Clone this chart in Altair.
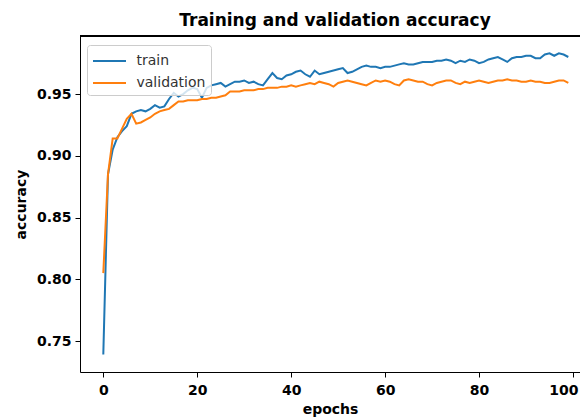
import altair as alt
import pandas as pd

epochs = list(range(100))

train = [
    0.739, 0.885, 0.905, 0.915, 0.920, 0.924, 0.934, 0.936, 0.937, 0.936,
    0.938, 0.941, 0.939, 0.940, 0.946, 0.951, 0.948, 0.950, 0.953, 0.955,
    0.954, 0.947, 0.955, 0.957, 0.958, 0.959, 0.956, 0.958, 0.960, 0.960,
    0.961, 0.959, 0.960, 0.958, 0.957, 0.962, 0.967, 0.963, 0.962, 0.965,
    0.966, 0.968, 0.969, 0.966, 0.964, 0.969, 0.966, 0.967, 0.968, 0.969,
    0.970, 0.971, 0.967, 0.968, 0.970, 0.972, 0.973, 0.972, 0.972, 0.971,
    0.972, 0.972, 0.973, 0.974, 0.975, 0.974, 0.974, 0.975, 0.976, 0.976,
    0.976, 0.977, 0.977, 0.978, 0.977, 0.975, 0.977, 0.976, 0.978, 0.977,
    0.975, 0.976, 0.978, 0.979, 0.980, 0.978, 0.976, 0.979, 0.980, 0.980,
    0.981, 0.981, 0.979, 0.979, 0.982, 0.983, 0.981, 0.983, 0.982, 0.980,
]

validation = [
    0.805, 0.885, 0.914, 0.914, 0.922, 0.930, 0.934, 0.926, 0.927, 0.929,
    0.931, 0.934, 0.936, 0.937, 0.938, 0.941, 0.944, 0.944, 0.945, 0.945,
    0.945, 0.946, 0.946, 0.947, 0.947, 0.948, 0.949, 0.952, 0.952, 0.952,
    0.953, 0.953, 0.953, 0.954, 0.954, 0.955, 0.955, 0.955, 0.956, 0.956,
    0.957, 0.956, 0.957, 0.958, 0.959, 0.958, 0.960, 0.959, 0.958, 0.956,
    0.959, 0.960, 0.961, 0.960, 0.959, 0.958, 0.957, 0.959, 0.961, 0.960,
    0.961, 0.960, 0.958, 0.957, 0.961, 0.962, 0.961, 0.960, 0.960, 0.958,
    0.957, 0.959, 0.960, 0.961, 0.961, 0.959, 0.958, 0.960, 0.959, 0.960,
    0.961, 0.960, 0.959, 0.960, 0.961, 0.961, 0.962, 0.961, 0.961, 0.960,
    0.960, 0.961, 0.960, 0.960, 0.959, 0.959, 0.960, 0.961, 0.961, 0.959,
]

series_names = ["train", "validation"]
series_colors = ["#1f77b4", "#ff7f0e"]
x_ticks = [0, 20, 40, 60, 80, 100]
y_ticks = [0.75, 0.80, 0.85, 0.90, 0.95]

df = pd.DataFrame({
    "epoch": epochs + epochs,
    "accuracy": train + validation,
    "series": ["train"] * len(train) + ["validation"] * len(validation),
})

W, H = 500, 336
FONT = "DejaVu Sans"

lines = alt.Chart(df).mark_line(strokeWidth=2, clip=True).encode(
    x=alt.X(
        "epoch:Q",
        scale=alt.Scale(domain=[-4.96, 101.49], nice=False, zero=False),
        axis=alt.Axis(values=x_ticks, format="d", title="epochs",
                      labelFlush=10, labelFlushOffset=5),
    ),
    y=alt.Y(
        "accuracy:Q",
        scale=alt.Scale(domain=[0.7249, 0.997], nice=False, zero=False),
        axis=alt.Axis(values=y_ticks, format=".2f", title="accuracy"),
    ),
    color=alt.Color(
        "series:N",
        scale=alt.Scale(domain=series_names, range=series_colors),
        legend=alt.Legend(
            title=None,
            orient="none",
            legendX=7,
            legendY=9,
            symbolType="M-1.65,0H1.65",
            symbolSize=400,
            symbolOffset=6.5,
            symbolStrokeWidth=2,
            labelFontSize=14,
            labelFont=FONT,
            labelColor="#333333",
            labelOffset=16,
            padding=5,
            rowPadding=4,
            strokeColor="#cccccc",
            fillColor="rgba(255,255,255,0.8)",
            cornerRadius=3,
        ),
    ),
)

top_frame = alt.Chart(df).mark_rule(color="black", strokeWidth=1).encode(
    x=alt.value(0), x2=alt.value(W), y=alt.value(0)
)

chart = alt.layer(lines, top_frame).properties(
    width=W,
    height=H,
    title=alt.TitleParams(
        "Training and validation accuracy",
        font=FONT,
        fontSize=17,
        fontWeight="bold",
        color="black",
        offset=6,
        dx=5,
    ),
    autosize=alt.AutoSizeParams(type="none"),
    padding={"left": 72, "top": 28, "right": 0, "bottom": 47},
).configure_view(
    stroke="transparent"
).configure_axis(
    grid=False,
    domainColor="black",
    domainWidth=1,
    tickColor="black",
    tickSize=5,
    tickWidth=1,
    labelFont=FONT,
    labelFontSize=14,
    labelFontWeight="bold",
    labelColor="black",
    titleFont=FONT,
    titleFontSize=14,
    titleFontWeight="bold",
    titleColor="black",
).configure_axisY(
    labelPadding=4,
    titlePadding=8,
).configure_axisX(
    labelPadding=6,
    titlePadding=5,
)

chart.save("out.html", embed_options={"renderer": "svg", "actions": False})
